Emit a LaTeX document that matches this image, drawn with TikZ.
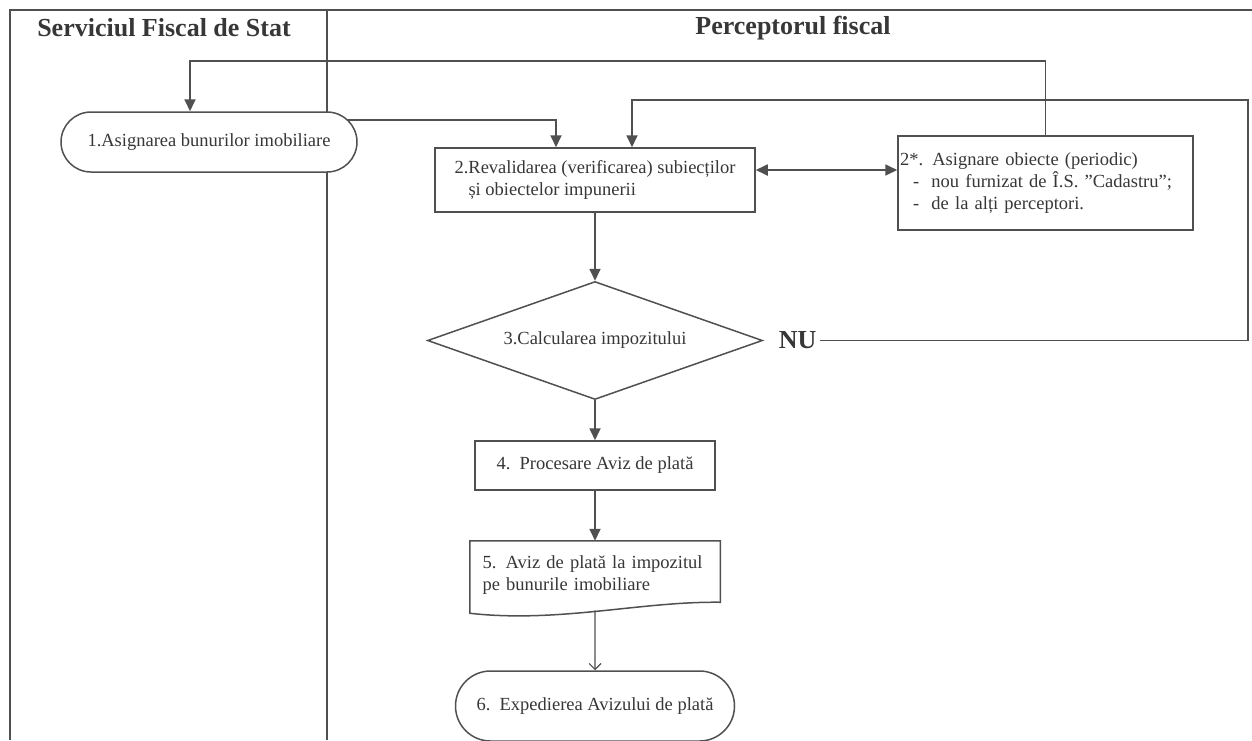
\documentclass[tikz,border=0pt]{standalone}
\usepackage{fontspec}
\setmainfont{Liberation Serif}
\usetikzlibrary{arrows.meta,positioning,shapes.geometric,shapes.misc,calc}
\definecolor{lineg}{RGB}{80,80,80}
\definecolor{txtg}{RGB}{55,55,55}

\begin{document}
\begin{tikzpicture}[
  x=1pt,y=-1pt,
  node distance=40pt,
  frame/.style={draw=lineg,line width=2pt},
  hdr/.style={font=\fontsize{26}{30}\selectfont\bfseries,text=txtg},
  box/.style={draw=lineg,line width=1.5pt,fill=white,text=txtg,font=\fontsize{18.5}{22}\selectfont,inner sep=3pt},
  term/.style={box,rounded rectangle},
  dec/.style={box,diamond,aspect=2.84,inner sep=0pt,minimum width=335pt,minimum height=118pt},
  docbox/.style={box,draw=none,fill=none,minimum width=249pt,minimum height=68pt,inner xsep=12pt,text width=225pt,align=left},
  arr/.style={draw=lineg,line width=1.8pt,-{Triangle[length=12pt,width=11pt]}},
  arrb/.style={arr,{Triangle[length=12pt,width=11pt]}-{Triangle[length=12pt,width=11pt]}},
  thinarr/.style={draw=lineg,line width=1.1pt,-{Straight Barb[length=6pt,width=12pt]}}
]
\useasboundingbox (0,0) rectangle (1252,740);
\draw[frame] (10,740) -- (10,10) -- (1252,10);
\draw[frame] (327,10) -- (327,740);
\node[hdr] (hsfs) at (164,28) {Serviciul Fiscal de Stat};
\node[hdr] (hpf) at (793,28) {Perceptorul fiscal};

\node[term,minimum width=302pt,minimum height=60pt] (n1) at (209,142) {1.Asignarea bunurilor imobiliare};
\node[box,minimum width=320pt,minimum height=64pt,align=left] (n2) at (595,180) {2.Revalidarea (verificarea) subiecților\\\hspace*{14pt}și obiectelor impunerii};
\node[box,minimum width=295pt,minimum height=94pt,inner xsep=2pt,text width=291pt,align=left] (n2s) at (1045.5,183) {2*. Asignare obiecte (periodic)\\\hspace*{13pt}-\ \ nou furnizat de Î.S. ”Cadastru”;\\\hspace*{13pt}-\ \ de la alți perceptori.};
\node[dec,below=68pt of n2] (n3) {3.Calcularea impozitului};
\node[hdr,right=12pt of n3] (nu) {NU};
\node[box,minimum width=240pt,minimum height=49pt,below=of n3] (n4) {4.\ \ Procesare Aviz de plată};
\node[docbox,below=50pt of n4] (n5) {5. Aviz de plată la impozitul\\pe bunurile imobiliare};
\node[term,minimum width=285pt,minimum height=70pt,below=60pt of n5] (n6) {6.\ \ Expedierea Avizului de plată};
\draw[draw=lineg,line width=1.5pt] (n5.north west) -- (n5.north east) -- ([yshift=8pt]n5.south east)
  .. controls ([xshift=-80pt,yshift=9pt]n5.south east) and ([xshift=89pt,yshift=-13pt]n5.south west) .. ([yshift=-3pt]n5.south west) -- cycle;

\coordinate (loopr) at (1248,100);
\draw[arr] (n1.9) -| ([xshift=-39pt]n2.north);
\draw[arr] (n2s.north) -- ++(0,-74) -| ([xshift=-19pt]n1.north);
\draw[arr] (nu.east) -| (loopr) -| ([xshift=37pt]n2.north);
\draw[arrb] ([yshift=10pt]n2.east) -- ([yshift=10pt]n2.east -| n2s.west);
\draw[arr] (n2) -- (n3);
\draw[arr] (n3) -- (n4);
\draw[arr] (n4) -- (n5);
\draw[thinarr] (n5.south) -- (n6);
\end{tikzpicture}
\end{document}
